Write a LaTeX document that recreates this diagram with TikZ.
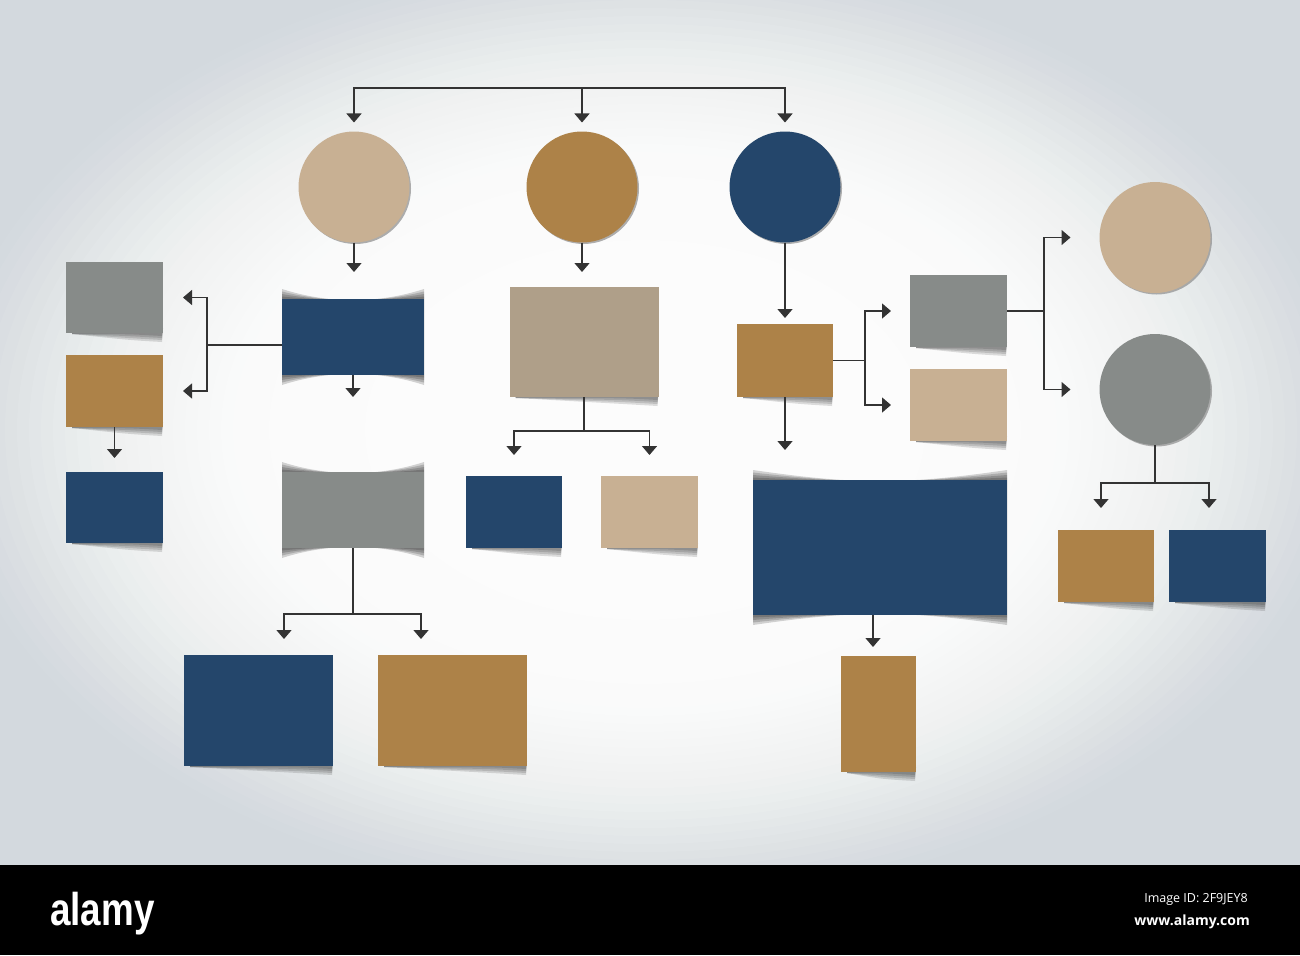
\documentclass[tikz,border=0pt]{standalone}
\usepackage{fontspec}
\setmainfont{Liberation Sans}
\newfontfamily\bandfont{Open Sans}
\usepackage{xcolor}
\usetikzlibrary{positioning, arrows.meta, shadows}

\definecolor{navy}{HTML}{24466B}
\definecolor{ochre}{HTML}{AD8248}
\definecolor{sand}{HTML}{C8B093}
\definecolor{taupe}{HTML}{AF9F89}
\definecolor{slate}{HTML}{878B89}
\definecolor{wire}{HTML}{333333}
\definecolor{bgedge}{HTML}{D3D9DE}

\pgfdeclarelayer{back}
\pgfdeclarelayer{under}
\pgfsetlayers{back,under,main}

\tikzset{
    box/.style={rectangle, inner sep=0pt, outer sep=0pt},
    ball/.style={circle, inner sep=0pt, outer sep=0pt, minimum size=111pt,
        drop shadow={shadow xshift=1.5pt, shadow yshift=-1.5pt, fill=black!45, opacity=.7}},
    link/.style={draw=wire, line width=1.4pt},
    arr/.style={link, -{Triangle[width=15pt,length=9pt]}},
}

\newcommand{\lowshade}[1]{%
    \begin{pgfonlayer}{under}
    \foreach \t in {9, 7, 5, 3} {
        \fill[black, opacity=.13]
            ([xshift=6pt,yshift=5pt]#1.south west) -- ([yshift=5pt]#1.south east)
            -- ([xshift=-1pt,yshift=-\t pt]#1.south east)
            .. controls ([xshift=-35pt,yshift={(2-\t)*1pt}]#1.south east) .. ([xshift=6pt,yshift=-1pt]#1.south west) -- cycle;
    }
    \end{pgfonlayer}}

\newcommand{\bowshade}[1]{%
    \begin{pgfonlayer}{under}
    \foreach \t in {10, 7.5, 5, 2.5} {
        \fill[black, opacity=.17] ([yshift=\t pt]#1.north west)
            .. controls ([xshift=-25pt,yshift={-(\t/3+1.5)*1pt}]#1.north) and ([xshift=25pt,yshift={-(\t/3+1.5)*1pt}]#1.north) .. ([yshift=\t pt]#1.north east)
            -- ([yshift=-\t pt]#1.south east)
            .. controls ([xshift=25pt,yshift={(\t/3+1.5)*1pt}]#1.south) and ([xshift=-25pt,yshift={(\t/3+1.5)*1pt}]#1.south) .. ([yshift=-\t pt]#1.south west)
            -- cycle;
    }
    \end{pgfonlayer}}

\begin{document}
\begin{tikzpicture}[x=1pt, y=-1pt]
        \useasboundingbox (0,0) rectangle (1300,955);
        \begin{pgfonlayer}{back}
            \fill[bgedge] (0,0) rectangle (1300,865);
            \foreach \s in {0,...,39} {
                \fill[white, opacity={0.04+0.006*\s}] (645,430) ellipse ({700-12*\s} and {470-8*\s});
            }
        \end{pgfonlayer}

        \foreach \n/\x/\y/\w/\h/\c in {la/114.5/297.5/97/71/slate, lb/114.5/391/97/72/ochre, lc/114.5/507.5/97/71/navy,
            a/353/337/142/76/navy, d/353/510/142/76/slate, e/258.5/710.5/149/111/navy, f/452.5/710.5/149/111/ochre,
            b/584/342/149/110/taupe, g/514/512/96/72/navy, h/649.5/512/97/72/sand,
            c/785/360.5/96/73/ochre, i/958.5/311/97/72/slate, j/958.5/405/97/72/sand,
            k/880/547.5/254/135/navy, l/878.5/714/75/116/ochre, o/1106/566/96/72/ochre, p/1217.5/566/97/72/navy} {
            \node[box, fill=\c, minimum width=\w pt, minimum height=\h pt] (\n) at (\x,\y) {};
        }

        \foreach \n/\x/\y/\c in {r1/354/187/sand, r2/582/187/ochre, r3/785/187/navy, r4/1155/237.5/sand, r5/1155/389.5/slate} {
            \node[ball, fill=\c] (\n) at (\x,\y) {};
        }

        \foreach \n in {la, lb, lc, e, f, b, g, h, c, i, j, l, o, p} {
            \lowshade{\n}
        }
        \foreach \n in {a, d, k} {
            \bowshade{\n}
        }

        \coordinate (bus) at (582,88);
        \draw[arr, shorten >=9pt] (bus) -| (r1);
        \draw[arr, shorten >=9pt] (bus) -- (r2);
        \draw[arr, shorten >=9pt] (bus) -| (r3);

        \draw[arr, shorten >=27pt] (r1) -- (r1 |- a.north);
        \draw[arr, shorten >=15pt] (r2) -- (r2 |- b.north);
        \draw[arr, shorten >=6pt] (r3) -- (r3 |- c.north);

        \coordinate (aj) at (207,345);
        \draw[link] (aj -| a.west) -- (aj);
        \draw[arr, shorten >=20pt] (aj) |- (la);
        \draw[arr, shorten >=20pt] (aj) |- (lb);
        \draw[arr, shorten >=14pt] (lb) -- (lc);
        \draw[arr, shorten >=75pt] (a) -- (d);

        \coordinate (dj) at (353,614);
        \draw[link] (d) -- (dj);
        \draw[arr, shorten >=16pt] (dj) -| ([xshift=25.5pt]e.north);
        \draw[arr, shorten >=16pt] (dj) -| ([xshift=-31.5pt]f.north);

        \coordinate (bj) at (584,431);
        \draw[link] (b) -- (bj);
        \draw[arr, shorten >=21pt] (bj) -| (g);
        \draw[arr, shorten >=21pt] (bj) -| (h);

        \coordinate (cj) at (865,360.5);
        \draw[link] (c) -- (cj);
        \draw[arr, shorten >=19pt] (cj) |- (i);
        \draw[arr, shorten >=19pt] (cj) |- (j);
        \draw[arr, shorten >=30pt] (c) -- (c |- k.north);
        \draw[arr, shorten >=9pt] ([xshift=-7pt]k.south) -- ([xshift=-7pt]k.south |- l.north);

        \coordinate (ij) at (1044,311);
        \draw[link] (i) -- (ij);
        \draw[arr, shorten >=29pt] (ij) |- (r4);
        \draw[arr, shorten >=29pt] (ij) |- (r5);

        \coordinate (nj) at (1155,483);
        \draw[link] (r5) -- (nj);
        \draw[arr, shorten >=22pt] (nj) -| ([xshift=-5pt]o.north);
        \draw[arr, shorten >=22pt] (nj) -| ([xshift=-8.5pt]p.north);

        \fill[black] (0,865) rectangle (1300,955);
        \node[anchor=base west, text=white, inner sep=0pt, xscale=.8, font=\bfseries\fontsize{46}{46}\selectfont] (logo) at (50,925) {alamy};
        \node[anchor=base east, text=white, inner sep=0pt, font=\bandfont\fontsize{12.5}{12.5}\selectfont] (imgid) at (1248,902) {Image ID: 2F9JEY8};
        \node[anchor=base east, text=white, inner sep=0pt, font=\bandfont\bfseries\fontsize{14}{14}\selectfont] (site) at (1250,925) {www.alamy.com};
    \end{tikzpicture}
\end{document}
